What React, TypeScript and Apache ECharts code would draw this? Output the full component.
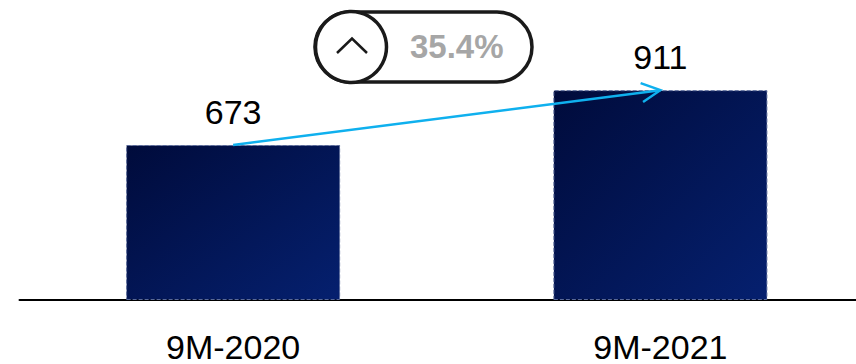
import React, { useEffect, useRef } from "react";
import * as echarts from "echarts";

const categories = ["9M-2020", "9M-2021"];
const values = [673, 911];
const growthLabel = "35.4%";

export default function App() {
  const ref = useRef<HTMLDivElement>(null);
  useEffect(() => {
    if (!ref.current) return;
    const chart = echarts.init(ref.current, null, { renderer: "svg" });
    const barColor = new echarts.graphic.LinearGradient(0, 0, 1, 1, [
      { offset: 0, color: "#000b3b" },
      { offset: 1, color: "#05206f" },
    ]);
    chart.setOption({
      animation: false,
      backgroundColor: "#ffffff",
      grid: { left: 19.5, right: 0, top: 69.7, bottom: 61 },
      xAxis: {
        type: "category",
        data: categories,
        axisLine: { lineStyle: { color: "#000000", width: 2 } },
        axisTick: { show: false },
        axisLabel: {
          margin: 34,
          fontSize: 34,
          lineHeight: 26,
          fontFamily: "Liberation Sans",
          color: "#000000",
        },
      },
      yAxis: {
        type: "value",
        min: 0,
        max: 1000,
        show: false,
        splitLine: { show: false },
      },
      series: [
        {
          type: "bar",
          data: values,
          barWidth: 214,
          itemStyle: {
            color: barColor,
            borderColor: "#5a6a9a",
            borderWidth: 1,
            borderType: "dashed",
          },
          label: {
            show: true,
            position: "top",
            distance: 16,
            fontSize: 34,
            fontFamily: "Liberation Sans",
            color: "#000000",
          },
        },
        {
          type: "custom",
          data: [[0, values[0], 1, values[1]]],
          z: 5,
          renderItem: (params: any, api: any) => {
            const p1 = api.coord([api.value(0), api.value(1)]);
            const p2 = api.coord([api.value(2), api.value(3)]);
            const dx = p1[0] - p2[0];
            const dy = p1[1] - p2[1];
            const len = Math.sqrt(dx * dx + dy * dy);
            const ux = dx / len;
            const uy = dy / len;
            const L = 21;
            const th = (27 * Math.PI) / 180;
            const rot = (a: number) => [
              p2[0] + L * (ux * Math.cos(a) - uy * Math.sin(a)),
              p2[1] + L * (ux * Math.sin(a) + uy * Math.cos(a)),
            ];
            const a1 = rot(th);
            const a2 = rot(-th);
            const style = { stroke: "#0fb0ee", lineWidth: 2.5, fill: "none" };
            return {
              type: "group",
              children: [
                {
                  type: "line",
                  shape: { x1: p1[0], y1: p1[1], x2: p2[0], y2: p2[1] },
                  style,
                },
                {
                  type: "polyline",
                  shape: { points: [a1, p2, a2] },
                  style,
                },
              ],
            };
          },
        },
      ],
      graphic: [
        {
          type: "rect",
          shape: { x: 315, y: 12, width: 217, height: 70, r: 35 },
          style: { fill: "#ffffff", stroke: "#1a1a1a", lineWidth: 3.5 },
          z: 10,
        },
        {
          type: "circle",
          shape: { cx: 351, cy: 47, r: 35.5 },
          style: { fill: "#ffffff", stroke: "#1a1a1a", lineWidth: 3.5 },
          z: 11,
        },
        {
          type: "polyline",
          shape: { points: [[337, 53], [352, 38.5], [367, 53]] },
          style: { fill: "none", stroke: "#1a1a1a", lineWidth: 2.5 },
          z: 12,
        },
        {
          type: "text",
          x: 410,
          y: 46,
          style: {
            text: growthLabel,
            fill: "#a6a6a6",
            fontSize: 33,
            fontWeight: "bold",
            fontFamily: "'Liberation Sans Narrow', 'Liberation Sans'",
            textAlign: "left",
            textVerticalAlign: "middle",
          },
          z: 12,
        },
      ],
    });
    return () => chart.dispose();
  }, []);
  return (
    <div
      style={{
        position: "fixed",
        left: 0,
        top: 0,
        width: 856,
        height: 364,
        overflow: "hidden",
        background: "#ffffff",
      }}
    >
      <div ref={ref} style={{ width: 874, height: 364 }} />
    </div>
  );
}
